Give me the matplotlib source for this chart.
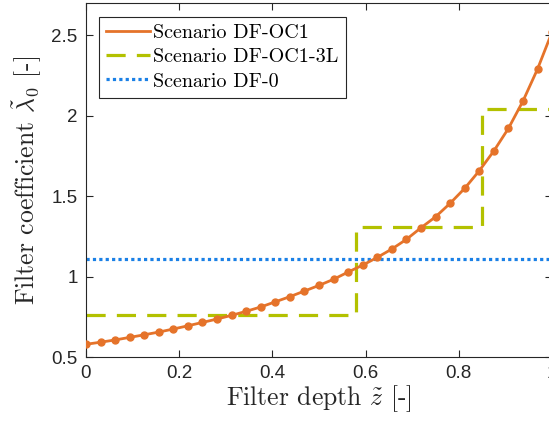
import numpy as np
import matplotlib.pyplot as plt

# данные
z = np.linspace(0, 1, 33)
lam_oc1 = [0.579, 0.592, 0.606, 0.622, 0.638, 0.655, 0.674, 0.694, 0.715, 0.736,
           0.759, 0.784, 0.811, 0.843, 0.875, 0.910, 0.945, 0.983, 1.028, 1.071,
           1.119, 1.171, 1.231, 1.303, 1.371, 1.455, 1.548, 1.657, 1.780, 1.920,
           2.090, 2.289, 2.520]
z_3l = [0, 0.58, 0.58, 0.85, 0.85, 1.0]
lam_3l = [0.76, 0.76, 1.31, 1.31, 2.04, 2.04]
z_df0 = [0, 1.0]
lam_df0 = [1.107, 1.107]

plt.rcParams['mathtext.fontset'] = 'cm'
plt.rcParams['font.family'] = 'Liberation Sans'
plt.rcParams['axes.unicode_minus'] = False

fig = plt.figure(figsize=(5.49, 4.23), dpi=100)
ax = fig.add_axes([0.1566, 0.156, 0.849, 0.837])

ax.plot(z, lam_oc1, color='#e5732a', lw=2.0, marker='o', ms=5,
        label='Scenario DF-OC1', zorder=3)
ax.plot(z_3l, lam_3l, color='#b3c100', lw=2.3, dashes=(6, 3.5),
        label='Scenario DF-OC1-3L', zorder=2)
ax.plot(z_df0, lam_df0, color='#1a80e6', lw=2.3, ls=(0, (1, 1)),
        label='Scenario DF-0', zorder=2)

ax.set_xlim(0, 1)
ax.set_ylim(0.5, 2.7)
ax.set_xticks([0, 0.2, 0.4, 0.6, 0.8, 1.0])
ax.set_xticklabels(['0', '0.2', '0.4', '0.6', '0.8', '1'])
ax.set_yticks([0.5, 1, 1.5, 2, 2.5])
ax.set_yticklabels(['0.5', '1', '1.5', '2', '2.5'])
ax.tick_params(direction='in', top=True, right=True, length=5, width=0.8,
               labelsize=13.5, colors='#262626', pad=6)
for s in ax.spines.values():
    s.set_color('#262626')
    s.set_linewidth(0.8)

ax.set_xlabel(r'Filter depth $\tilde{z}$ [-]', fontsize=18.5, family='cmr10',
              color='#262626', labelpad=1)
ax.set_ylabel(r'Filter coefficient $\tilde{\lambda}_0$ [-]', fontsize=18.5,
              family='cmr10', color='#262626', labelpad=5)

leg = ax.legend(loc='upper left', bbox_to_anchor=(0.028, 0.96), fancybox=False,
                edgecolor='#262626', framealpha=1, handlelength=2.2,
                handletextpad=0.15, borderpad=0.35, labelspacing=0.3,
                borderaxespad=0, prop={'family': 'cmr10', 'size': 14.5})
leg.get_frame().set_linewidth(0.8)
for h in leg.get_lines():
    h.set_marker('')

fig.savefig('out.png', dpi=100)
